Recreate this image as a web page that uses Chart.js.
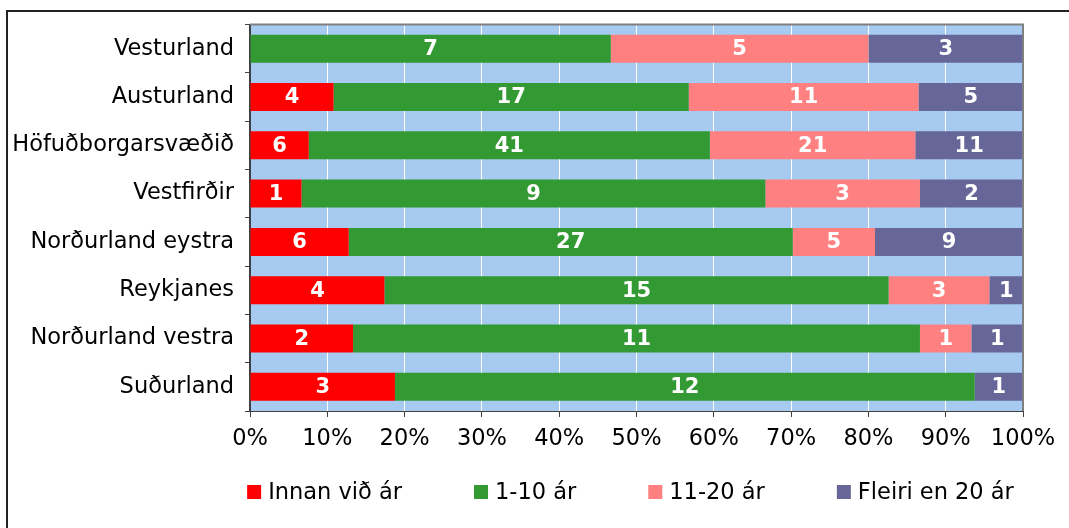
<!DOCTYPE html>
<html lang="is">
<head>
<meta charset="UTF-8">
<title>Starfsaldur eftir landshlutum</title>
<script src="https://cdn.jsdelivr.net/npm/chart.js"></script>
<style>
  body { margin: 0; background: #fff; }
  #frame { position: absolute; left: 6px; top: 10px; width: 1200px; height: 700px; border: 2px solid #222; }
  #wrap { position: absolute; left: 0; top: 0; width: 1069px; height: 528px; }
</style>
</head>
<body>
<div id="frame"></div>
<div id="wrap"><canvas id="myChart" width="1069" height="528"></canvas></div>
<script>
// regions, top to bottom
var regions = ['Vesturland', 'Austurland', 'Höfuðborgarsvæðið', 'Vestfirðir',
               'Norðurland eystra', 'Reykjanes', 'Norðurland vestra', 'Suðurland'];

// counts for each group
var innanVidAr = [0, 4, 6, 1, 6, 4, 2, 3];
var eittTilTiu = [7, 17, 41, 9, 27, 15, 11, 12];
var ellefuTilTuttugu = [5, 11, 21, 3, 5, 3, 1, 0];
var fleiriEn20 = [3, 5, 11, 2, 9, 1, 1, 1];

var seriesNames = ['Innan við ár', '1-10 ár', '11-20 ár', 'Fleiri en 20 ár'];
var seriesColors = ['#FF0000', '#339933', '#FF8080', '#666699'];
var xTicks = [0, 10, 20, 30, 40, 50, 60, 70, 80, 90, 100];

var FONT = "'DejaVu Sans', Verdana, sans-serif";
var TXT = 22.5;

var allCounts = [innanVidAr, eittTilTiu, ellefuTilTuttugu, fleiriEn20];
var totals = regions.map(function (r, i) {
    return allCounts.reduce(function (s, arr) { return s + arr[i]; }, 0);
});

var datasets = allCounts.map(function (arr, k) {
    return {
        label: seriesNames[k],
        counts: arr,
        data: arr.map(function (v, i) { return v / totals[i] * 100; }),
        backgroundColor: seriesColors[k],
        borderWidth: 0,
        categoryPercentage: 1,
        barPercentage: 0.58
    };
});

// light blue plot background + grey frame on top/right
var plotArea = {
    id: 'plotArea',
    beforeDraw: function (chart) {
        var a = chart.chartArea, c = chart.ctx;
        c.save();
        c.fillStyle = '#A6CAF0';
        c.fillRect(a.left, a.top, a.right - a.left, a.bottom - a.top);
        c.restore();
    },
    afterDraw: function (chart) {
        var a = chart.chartArea, c = chart.ctx;
        c.save();
        c.strokeStyle = '#808080';
        c.lineWidth = 2;
        c.beginPath();
        c.moveTo(a.left, a.top);
        c.lineTo(a.right, a.top);
        c.lineTo(a.right, a.bottom);
        c.stroke();
        c.restore();
    }
};

// white count labels in the middle of each segment
var countLabels = {
    id: 'countLabels',
    afterDatasetsDraw: function (chart) {
        var c = chart.ctx;
        c.save();
        c.font = 'bold 21px ' + FONT;
        c.fillStyle = '#fff';
        c.textAlign = 'center';
        c.textBaseline = 'middle';
        chart.data.datasets.forEach(function (ds, k) {
            chart.getDatasetMeta(k).data.forEach(function (bar, i) {
                var v = ds.counts[i];
                if (!v) return;
                c.fillText(String(v), (bar.x + bar.base) / 2, bar.y + 1);
            });
        });
        c.restore();
    }
};

// legend drawn by hand so it sits under the plot like the original
var bottomLegend = {
    id: 'bottomLegend',
    afterDraw: function (chart) {
        var c = chart.ctx, a = chart.chartArea;
        var box = 14, gapText = 7, gapItem = 72, y = 492;
        c.save();
        c.font = TXT + 'px ' + FONT;
        c.textBaseline = 'middle';
        var widths = chart.data.datasets.map(function (ds) { return c.measureText(ds.label).width; });
        var total = widths.reduce(function (s, w) { return s + box + gapText + w; }, 0) + gapItem * (widths.length - 1);
        var x = (a.left + a.right) / 2 - 6 - total / 2;
        chart.data.datasets.forEach(function (ds, k) {
            c.fillStyle = ds.backgroundColor;
            c.fillRect(x, y - 7, box, box);
            c.fillStyle = '#000';
            c.fillText(ds.label, x + box + gapText, y + 1);
            x += box + gapText + widths[k] + gapItem;
        });
        c.restore();
    }
};

var ctx = document.getElementById('myChart').getContext('2d');
var myChart = new Chart(ctx, {
    type: 'bar',
    data: { labels: regions, datasets: datasets },
    options: {
        indexAxis: 'y',
        responsive: false,
        animation: false,
        layout: { padding: { top: 24, right: 46, bottom: 57, left: 0 } },
        plugins: { legend: { display: false }, tooltip: { enabled: false } },
        scales: {
            x: {
                stacked: true,
                min: 0,
                max: 100,
                afterBuildTicks: function (scale) {
                    scale.ticks = xTicks.map(function (v) { return { value: v }; });
                },
                afterFit: function (scale) { scale.height = 60; },
                grid: { color: '#FFFFFF', lineWidth: 1, tickColor: '#404040', tickLength: 6 },
                border: { color: '#404040', width: 1 },
                ticks: {
                    color: '#000',
                    padding: 9,
                    maxRotation: 0,
                    font: { family: FONT, size: TXT },
                    callback: function (v) { return v + '%'; }
                }
            },
            y: {
                stacked: true,
                afterFit: function (scale) { scale.width = 250; },
                grid: { drawOnChartArea: false, offset: true, tickColor: '#404040', tickLength: 5 },
                border: { color: '#404040', width: 2 },
                ticks: { color: '#000', padding: 11, font: { family: FONT, size: TXT } }
            }
        }
    },
    plugins: [plotArea, countLabels, bottomLegend]
});
</script>
</body>
</html>
